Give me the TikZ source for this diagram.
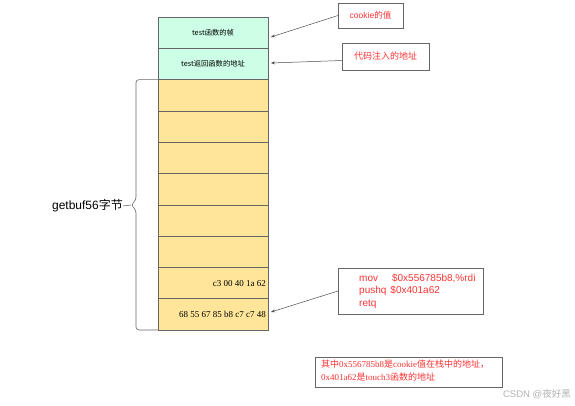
\documentclass[tikz,border=0pt]{standalone}
\usepackage{fontspec}
\setmainfont{Liberation Serif}
\setsansfont{Liberation Sans}
\newfontfamily\cjk{Noto Sans CJK SC}
\usetikzlibrary{arrows.meta}
\definecolor{gfill}{HTML}{CCFFE6}
\definecolor{yfill}{HTML}{FFE599}
\definecolor{bordc}{HTML}{666666}
\definecolor{redt}{HTML}{FF3333}
\tikzset{
  cell/.style={draw=bordc, line width=0.6pt, minimum width=110pt, minimum height=31.3pt, inner sep=0pt, outer sep=0pt, anchor=north west},
  gcell/.style={cell, fill=gfill, font=\cjk\fontsize{7.3}{8}\selectfont},
  ycell/.style={cell, fill=yfill},
  note/.style={draw=bordc, line width=0.6pt, fill=white, inner sep=0pt, outer sep=0pt, anchor=north west, text=redt},
  ptr/.style={draw=black!70, line width=0.5pt, -{Stealth[length=4pt,width=3pt]}},
  bytes/.style={font=\fontsize{9}{10}\selectfont, anchor=east, inner sep=0pt}
}
\begin{document}
\begin{tikzpicture}[x=1pt,y=-1pt]
\useasboundingbox (0,0) rectangle (575,405);
% stack cells
\node[gcell] (c1) at (158,17) {test函数的帧};
\node[gcell] (c2) at (158,48.3) {test返回函数的地址};
\node[ycell] (c3) at (158,79.6) {};
\node[ycell] (c4) at (158,110.9) {};
\node[ycell] (c5) at (158,142.2) {};
\node[ycell] (c6) at (158,173.5) {};
\node[ycell] (c7) at (158,204.8) {};
\node[ycell] (c8) at (158,236.1) {};
\node[ycell] (c9) at (158,267.4) {};
\node[ycell] (c10) at (158,298.7) {};
\node[bytes] (b9) at ([xshift=-2pt]c9.east) {c3 00 40 1a 62};
\node[bytes] (b10) at ([xshift=-2pt]c10.east) {68 55 67 85 b8 c7 c7 48};
% brace
\draw[draw=bordc, line width=0.6pt, rounded corners=3pt]
  (c3.north west) -- (136,79.6) -- (136,200) -- (131,205) -- (136,210) -- (136,330) -- (c10.south west);
\node[font=\sffamily\fontsize{12}{14}\selectfont, anchor=east, inner sep=0pt] (lab) at (123,206) {getbuf56{\cjk 字节}};
\coordinate (tip) at (131,205);
\draw[draw=bordc, line width=0.6pt] (lab.east) -- (tip);
% callouts
\node[note, minimum width=65pt, minimum height=25pt] (n1) at (338,3) {};
\node[text=redt, font=\sffamily\fontsize{8.5}{10}\selectfont, inner sep=0pt] at (n1.center) {cookie{\cjk 的值}};
\node[note, minimum width=87pt, minimum height=27pt] (n2) at (342,43) {};
\node[text=redt, font=\cjk\fontsize{9}{10}\selectfont, inner sep=0pt] at (n2.center) {代码注入的地址};
\node[note, minimum width=145pt, minimum height=46pt] (n3) at (338,268) {};
\node[text=redt, font=\sffamily\fontsize{10}{12.5}\selectfont, align=left, anchor=north west, inner sep=0pt] at (359,273.5)
  {mov\hspace{14pt}\$0x556785b8,\%rdi\\pushq\hspace{4pt}\$0x401a62\\retq};
\node[note, minimum width=187pt, minimum height=30pt] (n4) at (315,357) {};
\node[text=redt, font=\fontsize{9}{12.5}\selectfont, align=left, anchor=north west, inner sep=0pt] at (321,360)
  {{\cjk 其中}0x556785b8{\cjk 是}cookie{\cjk 值在栈中的地址，}\\0x401a62{\cjk 是}touch3{\cjk 函数的地址}};
% arrows
\coordinate (a1) at (271,37);
\coordinate (a2) at (271,63);
\coordinate (a3) at (271,312);
\draw[ptr] (n1.west) -- (a1);
\draw[ptr] ([yshift=-4pt]n2.west) -- (a2);
\draw[ptr] (n3.west) -- (a3);
% watermark
\node[text=black!30, font=\sffamily\fontsize{9.5}{11}\selectfont, anchor=east, inner sep=0pt] (wm) at (571,394) {CSDN @{\cjk 夜好黑}};
\end{tikzpicture}
\end{document}
